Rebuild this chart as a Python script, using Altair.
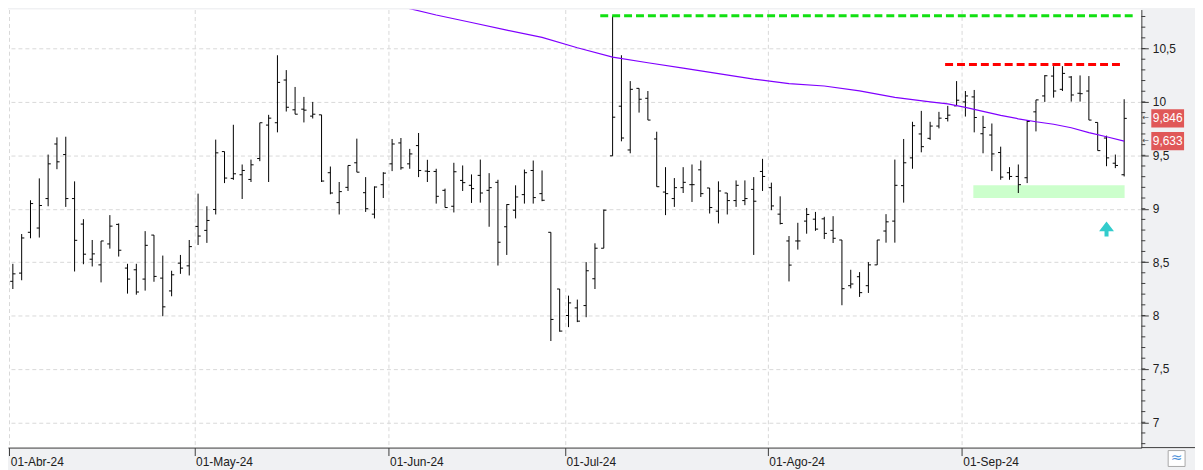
import altair as alt
import pandas as pd
import numpy as np

# ---------------- data ----------------
opens = [8.32, 8.397, 8.779, 8.819, 9.095, 9.606, 9.507, 9.095, 8.856, 8.527,
         8.474, 8.67, 8.853, 8.444, 8.428, 8.341, 8.753, 8.35, 8.23, 8.49,
         8.465, 8.834, 8.797, 8.993, 9.535, 9.284, 9.318, 9.274, 9.47, 9.783,
         9.805, 10.205, 9.926, 9.932, 9.867, 9.879, 9.337, 9.057, 9.2, 9.43,
         9.15, 8.949, 9.225, 9.42, 9.616, 9.42, 9.591, 9.352, 9.349, 9.172,
         9.023, 9.265, 9.219, 9.312, 9.172, 9.247, 8.831, 8.986, 9.132, 9.358,
         9.141, 8.779, 8.248, 8.0, 8.071, 8.093, 8.344, 8.63, 9.495, 9.96,
         9.55, 10.127, 10.034, 9.653, 9.156, 9.095, 9.197, 9.225, 9.364, 9.194,
         8.977, 9.147, 9.076, 9.076, 9.181, 9.349, 9.197, 8.949, 8.698, 8.698,
         8.884, 8.902, 8.905, 8.797, 8.707, 8.279, 8.363, 8.279, 8.474, 8.791,
         8.884, 9.216, 9.476, 9.7, 9.659, 9.774, 9.845, 9.963, 10.0, 10.047,
         9.702, 9.69, 9.526, 9.337, 9.302, 9.29, 9.907, 10.056, 10.242, 10.118,
         10.233, 10.081, 10.102, 9.808, 9.662, 9.426, 9.318]
highs = [8.484, 8.763, 9.079, 9.284, 9.507, 9.668, 9.674, 9.256, 8.902, 8.707,
         8.698, 8.94, 8.862, 8.484, 8.484, 8.79, 8.753, 8.561, 8.419, 8.567,
         8.707, 9.141, 9.023, 9.647, 9.535, 9.786, 9.414, 9.46, 9.805, 9.879,
         10.437, 10.298, 10.14, 10.047, 10.0, 9.879, 9.395, 9.25, 9.405, 9.656,
         9.296, 9.209, 9.342, 9.653, 9.662, 9.56, 9.709, 9.458, 9.374, 9.188,
         9.43, 9.405, 9.321, 9.46, 9.333, 9.271, 9.042, 9.219, 9.367, 9.451,
         9.358, 8.779, 8.248, 8.186, 8.149, 8.5, 8.676, 8.992, 10.806, 10.437,
         10.195, 10.127, 10.102, 9.721, 9.389, 9.287, 9.389, 9.414, 9.451, 9.194,
         9.256, 9.147, 9.265, 9.265, 9.296, 9.467, 9.244, 9.116, 8.744, 8.868,
         9.007, 8.97, 8.924, 8.93, 8.707, 8.428, 8.406, 8.5, 8.707, 8.949,
         9.46, 9.653, 9.814, 9.916, 9.814, 9.907, 9.963, 10.195, 10.102, 10.112,
         9.87, 9.798, 9.581, 9.389, 9.414, 9.83, 10.019, 10.251, 10.335, 10.335,
         10.242, 10.248, 10.242, 9.808, 9.684, 9.507, 10.025]
lows = [8.248, 8.33, 8.723, 8.73, 9.023, 9.37, 9.017, 8.412, 8.48, 8.459,
        8.31, 8.626, 8.552, 8.205, 8.195, 8.233, 8.316, 7.993, 8.18, 8.39,
        8.375, 8.66, 8.68, 8.946, 9.24, 9.27, 9.091, 9.25, 9.445, 9.25,
        9.715, 9.91, 9.885, 9.808, 9.845, 9.25, 9.135, 8.946, 9.166, 9.342,
        8.97, 8.909, 9.1, 9.352, 9.365, 9.374, 9.296, 9.25, 9.048, 9.011,
        8.965, 9.166, 9.054, 9.057, 8.831, 8.468, 8.567, 8.909, 9.048, 9.048,
        9.07, 7.761, 7.848, 7.891, 7.938, 7.984, 8.248, 8.63, 9.495, 9.631,
        9.519, 9.9, 9.83, 9.206, 8.94, 9.017, 9.147, 9.063, 9.11, 8.955,
        8.862, 8.946, 9.017, 9.033, 8.567, 9.166, 8.986, 8.853, 8.319, 8.617,
        8.766, 8.793, 8.716, 8.679, 8.096, 8.254, 8.174, 8.211, 8.474, 8.682,
        8.682, 9.057, 9.374, 9.528, 9.644, 9.752, 9.817, 9.963, 9.863, 9.715,
        9.519, 9.352, 9.271, 9.271, 9.147, 9.24, 9.724, 10.0, 10.04, 10.102,
        10.003, 10.003, 9.83, 9.544, 9.398, 9.38, 9.302]
closes = [8.39, 8.726, 9.048, 9.03, 9.42, 9.439, 9.095, 8.704, 8.574, 8.577,
          8.698, 8.837, 8.611, 8.341, 8.22, 8.657, 8.366, 8.081, 8.381, 8.444,
          8.645, 8.744, 8.89, 9.523, 9.287, 9.327, 9.358, 9.411, 9.805, 9.848,
          10.183, 9.95, 9.885, 9.923, 9.885, 9.259, 9.147, 9.16, 9.405, 9.342,
          9.0, 9.203, 9.333, 9.606, 9.383, 9.513, 9.358, 9.349, 9.116, 9.011,
          9.346, 9.244, 9.188, 9.147, 9.197, 8.686, 9.039, 9.11, 9.337, 9.104,
          9.079, 7.963, 7.854, 8.118, 7.947, 8.419, 8.63, 8.986, 9.857, 9.662,
          10.118, 10.025, 9.83, 9.206, 9.141, 9.197, 9.247, 9.225, 9.141, 9.011,
          9.166, 9.076, 9.219, 9.095, 9.07, 9.302, 9.026, 8.862, 8.472, 8.698,
          8.946, 8.809, 8.769, 8.723, 8.251, 8.295, 8.214, 8.474, 8.707, 8.877,
          9.219, 9.43, 9.777, 9.581, 9.774, 9.848, 9.876, 10.016, 10.056, 9.854,
          9.761, 9.513, 9.296, 9.302, 9.225, 9.817, 10.019, 10.245, 10.102, 10.267,
          10.065, 10.077, 9.83, 9.544, 9.476, 9.405, 9.846]

# moving average (purple line), sampled at bar indices
ma_idx = [40, 44, 48, 52, 56, 60, 64, 68, 72, 76, 80, 84, 88, 92, 96, 100,
          104, 106, 108, 110, 112, 114, 116, 118, 120, 122, 124, 126]
ma_val = [10.958, 10.893, 10.814, 10.744, 10.672, 10.605, 10.507, 10.419,
          10.367, 10.316, 10.265, 10.214, 10.172, 10.149, 10.104, 10.042,
          10.0, 9.981, 9.949, 9.912, 9.874, 9.842, 9.814, 9.791, 9.758,
          9.712, 9.674, 9.633]

month_labels = ["01-Abr-24", "01-May-24", "01-Jun-24", "01-Jul-24", "01-Ago-24", "01-Sep-24"]
y_ticks = [7, 7.5, 8, 8.5, 9, 9.5, 10, 10.5]

# drawn levels / zone / signal
level_start = [66.6, 105.7]
level_end = [127.0, 125.7]
level_value = [10.806, 10.351]
level_color = ["#12e012", "#ff0000"]
zone_start, zone_end = [108.9], [126.05]
zone_low, zone_high = [9.10], [9.22]
arrow_idx, arrow_val = [124], [8.81]

# ---------------- derived tables ----------------
dates = [d for d in pd.bdate_range("2024-04-02", "2024-09-26") if d != pd.Timestamp("2024-05-01")]
n = len(opens)
dates = dates[:n]
first_idx = [i for i in range(n) if i == 0 or dates[i].month != dates[i - 1].month]
tick_vals = [round(i - 0.4, 2) for i in first_idx]

df = pd.DataFrame({"idx": list(range(n)), "open": opens, "high": highs,
                   "low": lows, "close": closes})
df_ma = pd.DataFrame({"idx": ma_idx, "ma": ma_val})
df_lvl = pd.DataFrame({"s": level_start, "e": level_end, "v": level_value, "c": level_color})
df_zone = pd.DataFrame({"s": zone_start, "e": zone_end, "lo": zone_low, "hi": zone_high})
df_arrow = pd.DataFrame({"idx": arrow_idx, "v": arrow_val})
lab_vals = [closes[-1], ma_val[-1]]
df_lab = pd.DataFrame({"v": lab_vals, "t": [f"{v:.3f}".replace(".", ",") for v in lab_vals]})
df_minor = pd.DataFrame({"v": np.round(np.arange(68, 109) / 10, 1)})
one = pd.DataFrame({"a": [0]})

expr = "''"
for v, lab in reversed(list(zip(tick_vals, month_labels))):
    expr = f"abs(datum.value - ({v})) < 0.01 ? '{lab}' : ({expr})"

W, H = 1141, 441
XS = alt.Scale(domain=[-0.55, 127.95], nice=False, zero=False)
YS = alt.Scale(domain=[6.763, 10.865], nice=False, zero=False)
AXC = "#3c3c3c"
GRID = "#d9d9d9"
XAX = alt.Axis(values=tick_vals, labelExpr=expr, orient="bottom", grid=True,
               gridColor=GRID, gridDash=[4, 3], domainColor=AXC, tickColor=AXC,
               tickSize=8, labelAlign="left", labelBaseline="middle", labelPadding=6,
               labelFontSize=12, labelColor="#202020", labelFont="Liberation Sans",
               labelOffset=1, labelFlush=False, labelOverlap=False, title=None)
YAX = alt.Axis(values=y_ticks, orient="right", grid=True, gridColor=GRID, gridDash=[4, 3],
               labelExpr="replace(toString(datum.value), '.', ',')",
               domainColor=AXC, tickColor=AXC, tickSize=7, labelPadding=4,
               labelFontSize=12, labelColor="#202020", labelFont="Liberation Sans",
               labelAlign="left", labelBaseline="middle", labelFlush=False, title=None)

def X(f):
    return alt.X(f, scale=XS, axis=XAX, title=None)

def Y(f):
    return alt.Y(f, scale=YS, axis=YAX, title=None)

base = alt.Chart(df)

zone = alt.Chart(df_zone).mark_rect(color="#ccffcc").encode(
    x=X("s:Q"), x2="e:Q", y=Y("hi:Q"), y2="lo:Q")

hl = base.mark_rule(color="black", strokeWidth=1).encode(
    x=X("idx:Q"), y=Y("low:Q"), y2="high:Q")
op = base.transform_calculate(xa="datum.idx - 0.3").mark_rule(color="black", strokeWidth=1).encode(
    x=X("xa:Q"), x2="idx:Q", y=Y("open:Q"))
cl = base.transform_calculate(xb="datum.idx + 0.3").mark_rule(color="black", strokeWidth=1).encode(
    x=X("idx:Q"), x2="xb:Q", y=Y("close:Q"))

ma = alt.Chart(df_ma).mark_line(color="#8000ff", strokeWidth=1.2, clip=True).encode(
    x=X("idx:Q"), y=Y("ma:Q"))

lvl = alt.Chart(df_lvl).mark_rule(strokeWidth=3, strokeDash=[8, 4]).encode(
    x=X("s:Q"), x2="e:Q", y=Y("v:Q"), color=alt.Color("c:N", scale=None))

arrow = alt.Chart(df_arrow).mark_point(
    shape="M0,-1L1,0.3L0.27,0.3L0.27,1L-0.27,1L-0.27,0.3L-1,0.3Z",
    filled=True, size=225, color="#33cccc", opacity=1).encode(
    x=X("idx:Q"), y=Y("v:Q"))

minor = alt.Chart(df_minor).mark_rule(color=AXC, strokeWidth=1).encode(
    x=alt.value(W), x2=alt.value(W + 4), y=Y("v:Q"))

bottom_ext = alt.Chart(one).mark_rule(color=AXC, strokeWidth=1).encode(
    x=alt.value(W), x2=alt.value(W + 54), y=alt.value(H))

lab_box = alt.Chart(df_lab).transform_calculate(
    top="datum.v + 0.086", bot="datum.v - 0.086").mark_rect(color="#e05858").encode(
    x=alt.value(W + 10), x2=alt.value(W + 43), y=Y("top:Q"), y2="bot:Q")
lab_txt = alt.Chart(df_lab).mark_text(color="white", fontSize=12, font="Liberation Sans",
                                      align="center", baseline="middle").encode(
    x=alt.value(W + 26.5), y=Y("v:Q"), text="t:N")
lab_arrow = alt.Chart(df_lab).mark_text(text="←", color="#444444", fontSize=8, font="DejaVu Sans",
                                        align="left", baseline="middle").encode(
    x=alt.value(W + 1), y=Y("v:Q"))

icon = alt.Chart(one).mark_rect(fill="white", stroke="#a8a8a8", strokeWidth=1).encode(
    x=alt.value(W + 27), x2=alt.value(W + 44), y=alt.value(H + 3), y2=alt.value(H + 19))
icon_t = alt.Chart(one).mark_text(text="≈", color="#4a90d9", fontSize=14, font="DejaVu Sans",
                                  align="center", baseline="middle").encode(
    x=alt.value(W + 35.5), y=alt.value(H + 11))

chart = alt.layer(zone, hl, op, cl, ma, lvl, arrow, minor, bottom_ext,
                  lab_box, lab_txt, lab_arrow, icon, icon_t).properties(
    width=W, height=H,
    autosize=alt.AutoSizeParams(type="none"),
    padding={"left": 0, "top": 0, "right": 54, "bottom": 21},
    background="#f0f1f3",
).configure(font="Liberation Sans").configure_view(fill="white", stroke=None)

chart.save("out.html", embed_options={"renderer": "svg", "actions": False})
